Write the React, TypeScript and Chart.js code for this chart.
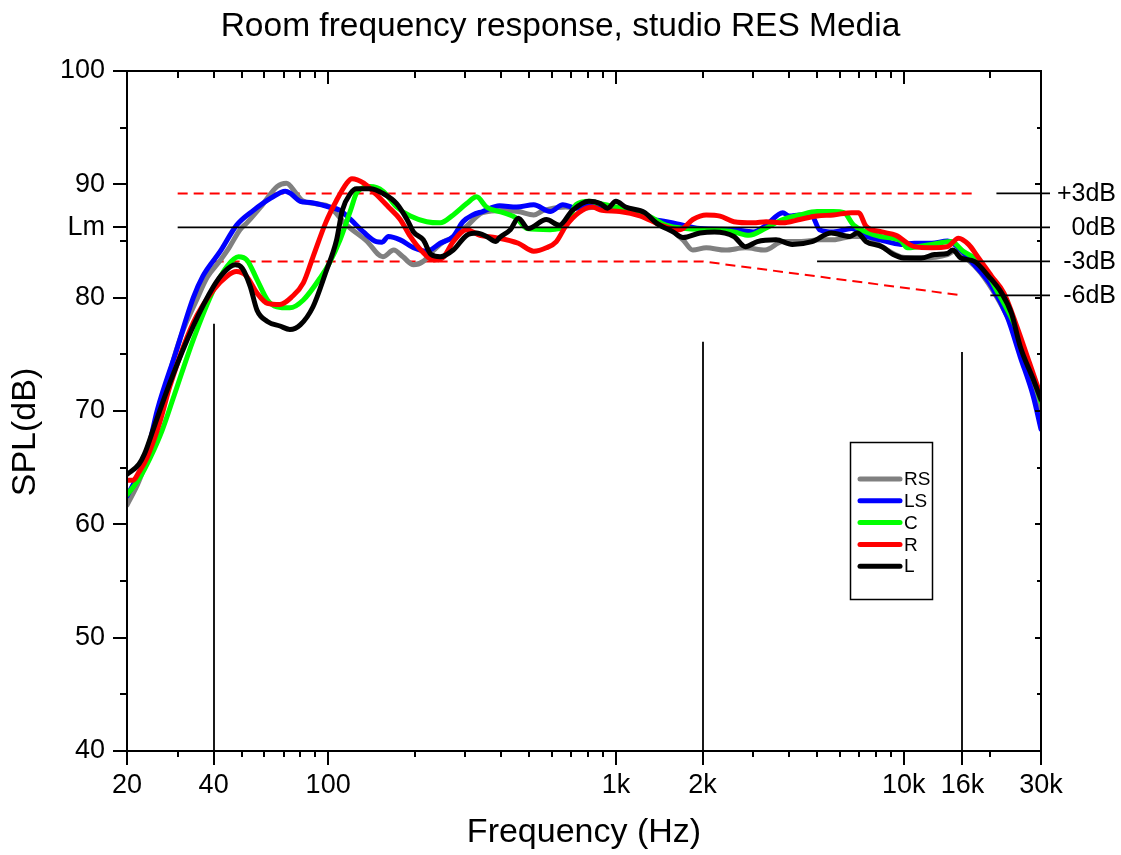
import React, { useEffect, useRef } from 'react';
import { Chart, registerables } from 'chart.js';

Chart.register(...registerables);

const FONT = "'Liberation Sans', Arial, Helvetica, sans-serif";

const TITLE = 'Room frequency response, studio RES Media';
const X_TITLE = 'Frequency (Hz)';
const Y_TITLE = 'SPL(dB)';

const X_MIN = 20;
const X_MAX = 30000;
const Y_MIN = 40;
const Y_MAX = 100;

const X_MAJOR = [20, 40, 100, 1000, 2000, 10000, 16000, 30000];
const X_MAJOR_LABELS = ['20', '40', '100', '1k', '2k', '10k', '16k', '30k'];
const X_MINOR = [30, 50, 60, 70, 80, 90, 200, 300, 400, 500, 600, 700, 800, 900, 3000, 4000, 5000, 6000, 7000, 8000, 9000, 20000];
const X_TOP_MAJOR = [100, 1000, 10000];
const X_TOP_MINOR = [30, 40, 50, 60, 70, 80, 90, 200, 300, 400, 500, 600, 700, 800, 900, 2000, 3000, 4000, 5000, 6000, 7000, 8000, 9000, 20000];

const LM = 86.2;
const Y_MAJOR = [40, 50, 60, 70, 80, 90, 100];
const Y_MINOR = [45, 55, 65, 75, 85, 95];

// reference levels relative to Lm
const REF_OFFSETS = [3, 0, -3, -6];
const REF_LABELS = ['+3dB', '0dB', '-3dB', '-6dB'];
const REF_START_HZ = [21000, 30, 5000, 20000];

// tolerance template (red dashed)
const UPPER_BAND_HZ = [30, 17300];
const UPPER_BAND_OFFSET = [3, 3];
const LOWER_BAND_HZ = [40, 2000, 16000];
const LOWER_BAND_OFFSET = [-3, -3, -6];

// vertical markers
const MARKER_HZ = [40, 2000, 16000];
const MARKER_TOP_DB = [77.7, 76.1, 75.2];

// ---- measured curves ----
const RS_HZ = [20, 22, 24, 26, 28.2, 31, 34.9, 38, 42.2, 45, 49.4, 52.2, 58.3, 66.4, 71.6, 77.4, 81, 90, 101, 116, 136, 155, 169, 182, 198, 214, 233, 252, 272, 303, 344, 406, 458, 518, 560, 669, 762, 883, 1000, 1140, 1430, 1710, 1850, 2060, 2400, 2820, 3300, 3800, 4400, 5100, 5700, 6600, 7400, 8400, 9800, 11500, 14200, 15000, 16800, 18500, 21000, 23700, 26300, 29000, 30000];
const RS_DB = [61.7, 63.8, 66.5, 69.5, 73.4, 76.8, 79.8, 81.8, 83.3, 84.3, 86.0, 86.6, 88.0, 89.8, 90.1, 89.2, 88.6, 88.3, 88.0, 86.4, 85.0, 83.6, 84.2, 83.6, 82.9, 83.2, 84.2, 84.95, 85.3, 86.3, 87.5, 87.7, 87.6, 87.3, 87.7, 88.0, 87.9, 88.0, 87.9, 87.6, 86.6, 85.1, 84.2, 84.4, 84.2, 84.4, 84.2, 84.95, 84.95, 85.1, 85.1, 85.4, 85.4, 84.5, 83.6, 83.5, 83.8, 84.1, 83.3, 82.2, 80.1, 77.5, 74.2, 71.3, 69.5];

const LS_HZ = [20, 22, 23.5, 25.5, 29.5, 34, 36.7, 42.2, 48.1, 55, 63.4, 71, 74, 80, 86.6, 101, 110, 119.6, 132.6, 147, 154, 162, 178, 198, 220, 245, 272, 294, 318, 344, 394, 452, 518, 591, 654, 726, 806, 935, 1140, 1300, 1580, 1960, 2570, 3000, 3330, 3800, 4000, 4350, 4800, 5100, 5700, 6600, 7300, 8300, 9800, 10900, 12500, 14200, 15800, 17600, 20200, 22900, 25400, 28200, 30000];
const LS_DB = [62.5, 64.5, 66.3, 70.1, 75.1, 80.0, 81.9, 84.1, 86.4, 87.7, 88.8, 89.4, 89.2, 88.5, 88.4, 88.0, 87.7, 86.9, 85.8, 84.95, 84.9, 85.4, 85.1, 84.4, 84.1, 84.8, 85.4, 86.7, 87.3, 87.6, 88.1, 88.0, 88.2, 87.6, 88.2, 87.9, 88.2, 87.9, 87.5, 87.0, 86.6, 86.1, 86.0, 85.8, 86.4, 87.5, 87.2, 87.3, 87.2, 86.0, 85.8, 86.1, 85.5, 85.1, 84.7, 84.8, 84.8, 85.0, 84.2, 82.9, 81.0, 78.3, 74.8, 71.3, 68.4];

const C_HZ = [20, 22, 24, 26.5, 29.1, 34, 40, 44.5, 48.8, 52.3, 56.6, 61.5, 66.3, 73.6, 82, 94.7, 101, 110, 119.6, 126, 140, 155, 173, 193, 220, 245, 272, 303, 328, 355, 406, 452, 490, 591, 669, 726, 806, 883, 1000, 1140, 1300, 1490, 1750, 2060, 2570, 2900, 3300, 3800, 4350, 5000, 5700, 6200, 6700, 7400, 8300, 9800, 10300, 12500, 14600, 16100, 18500, 21000, 24100, 26700, 30000];
const C_DB = [62.6, 64.0, 65.8, 68.3, 71.3, 76.3, 80.7, 82.75, 83.6, 83.3, 81.6, 79.8, 79.2, 79.1, 79.8, 81.9, 83.05, 85.1, 87.7, 89.3, 89.8, 89.4, 88.0, 87.2, 86.7, 86.6, 87.3, 88.3, 88.9, 88.0, 87.5, 87.0, 86.1, 86.0, 86.3, 88.2, 88.5, 88.3, 88.0, 87.6, 87.2, 86.4, 86.1, 86.0, 85.8, 85.5, 86.1, 86.9, 87.3, 87.6, 87.6, 87.5, 86.4, 85.8, 85.4, 85.0, 84.4, 84.7, 84.95, 84.1, 83.05, 80.7, 77.8, 74.8, 70.85];

const R_HZ = [20, 21, 22, 23.5, 26, 28.2, 34, 40, 44.5, 48, 52, 56.6, 61.5, 68, 75, 82, 88.6, 98, 107, 116, 121, 133, 147, 162, 178, 193, 210, 233, 252, 272, 303, 337, 383, 458, 518, 573, 621, 669, 742, 826, 894, 1030, 1220, 1430, 1670, 1850, 2060, 2300, 2570, 3000, 3330, 3800, 4350, 5000, 5700, 6600, 6970, 7400, 8400, 9400, 10900, 12500, 14200, 15500, 16800, 18100, 20200, 22300, 24700, 27400, 30000];
const R_DB = [63.9, 63.9, 64.6, 65.9, 69.0, 72.2, 77.8, 80.7, 81.9, 82.3, 81.9, 80.4, 79.5, 79.4, 80.1, 81.3, 83.6, 86.6, 88.6, 90.1, 90.5, 90.1, 89.1, 88.0, 86.9, 85.4, 84.2, 83.3, 83.6, 84.95, 86.0, 85.5, 85.3, 84.8, 84.1, 84.4, 84.95, 86.3, 87.5, 88.0, 87.7, 87.6, 87.2, 86.4, 86.0, 86.9, 87.3, 87.2, 86.7, 86.6, 86.7, 86.6, 86.9, 87.2, 87.3, 87.5, 87.5, 86.3, 85.8, 85.5, 84.5, 84.4, 84.5, 85.25, 84.7, 83.6, 81.9, 80.4, 77.5, 74.2, 71.3];

const L_HZ = [20, 22, 23, 25, 28.2, 34, 40, 43.3, 47.5, 50.3, 53.6, 56.6, 61.5, 68, 73.6, 80, 88.6, 98, 107, 112, 119.6, 125.5, 140, 155, 173, 188, 198, 214, 228, 245, 272, 303, 328, 355, 383, 394, 430, 458, 496, 573, 636, 706, 806, 883, 935, 1000, 1080, 1260, 1380, 1580, 1710, 1960, 2200, 2570, 2820, 3100, 3600, 4100, 4800, 5600, 6500, 6900, 7400, 8400, 9200, 10000, 11500, 12800, 14200, 14800, 15800, 17600, 19700, 21900, 23700, 25400, 28200, 30000];
const L_DB = [64.4, 65.3, 66.2, 68.8, 72.5, 77.5, 81.0, 82.2, 82.9, 82.6, 81.0, 78.9, 77.9, 77.5, 77.2, 77.6, 79.2, 82.2, 85.1, 87.7, 89.2, 89.6, 89.6, 89.2, 88.3, 86.9, 85.8, 85.1, 83.8, 83.6, 84.2, 85.5, 85.7, 85.4, 84.95, 85.3, 86.0, 87.0, 86.1, 86.9, 86.4, 87.7, 88.5, 88.3, 87.9, 88.5, 88.0, 87.5, 86.6, 85.8, 85.3, 85.7, 85.8, 85.4, 84.5, 84.95, 85.1, 84.7, 84.95, 85.7, 85.4, 85.7, 84.95, 84.5, 83.8, 83.5, 83.5, 83.8, 83.9, 84.2, 83.5, 83.2, 81.9, 80.4, 78.6, 75.7, 72.8, 71.0];

const SERIES_NAMES = ['RS', 'LS', 'C', 'R', 'L'];
const SERIES_COLORS = ['#808080', '#0000ff', '#00ff00', '#ff0000', '#000000'];
const SERIES_HZ = [RS_HZ, LS_HZ, C_HZ, R_HZ, L_HZ];
const SERIES_DB = [RS_DB, LS_DB, C_DB, R_DB, L_DB];

const overlayPlugin = {
  id: 'overlay',
  beforeDatasetsDraw(chart: any) {
    const { ctx, scales } = chart;
    const x = scales.x;
    const y = scales.y;
    ctx.save();
    ctx.strokeStyle = '#ff0000';
    ctx.lineWidth = 2;
    ctx.setLineDash([10, 6]);
    const band = (hz: number[], off: number[]) => {
      ctx.beginPath();
      hz.forEach((f, i) => {
        const px = x.getPixelForValue(f);
        const py = y.getPixelForValue(LM + off[i]);
        if (i === 0) ctx.moveTo(px, py);
        else ctx.lineTo(px, py);
      });
      ctx.stroke();
    };
    band(UPPER_BAND_HZ, UPPER_BAND_OFFSET);
    band(LOWER_BAND_HZ, LOWER_BAND_OFFSET);
    ctx.setLineDash([]);
    ctx.restore();
  },
  afterDatasetsDraw(chart: any) {
    const { ctx, chartArea, scales } = chart;
    const x = scales.x;
    const y = scales.y;
    const { left, right, top, bottom } = chartArea;
    ctx.save();
    ctx.strokeStyle = '#000';
    ctx.fillStyle = '#000';
    ctx.lineCap = 'butt';
    const line = (x1: number, y1: number, x2: number, y2: number, w = 2) => {
      ctx.lineWidth = w;
      ctx.beginPath();
      ctx.moveTo(x1, y1);
      ctx.lineTo(x2, y2);
      ctx.stroke();
    };
    // reference level lines
    REF_OFFSETS.forEach((o, i) => {
      const py = y.getPixelForValue(LM + o);
      line(x.getPixelForValue(REF_START_HZ[i]), py, right + 9, py, 1.8);
    });
    // vertical markers
    MARKER_HZ.forEach((f, i) => {
      const px = Math.round(x.getPixelForValue(f));
      line(px, y.getPixelForValue(MARKER_TOP_DB[i]), px, bottom, 1.8);
    });
    // frame
    ctx.lineWidth = 2;
    ctx.strokeRect(left, top, right - left, bottom - top);
    // bottom ticks
    X_MAJOR.forEach((f) => {
      const px = Math.round(x.getPixelForValue(f));
      line(px, bottom, px, bottom + 14);
    });
    X_MINOR.forEach((f) => {
      const px = Math.round(x.getPixelForValue(f));
      line(px, bottom, px, bottom + 6);
    });
    // top ticks (inward)
    X_TOP_MAJOR.forEach((f) => {
      const px = Math.round(x.getPixelForValue(f));
      line(px, top, px, top + 13);
    });
    X_TOP_MINOR.forEach((f) => {
      const px = Math.round(x.getPixelForValue(f));
      line(px, top, px, top + 7);
    });
    // left ticks
    [...Y_MAJOR, LM].forEach((v) => {
      const py = Math.round(y.getPixelForValue(v));
      line(left - 14, py, left, py);
    });
    Y_MINOR.forEach((v) => {
      const py = Math.round(y.getPixelForValue(v));
      line(left - 7, py, left, py);
    });
    // right ticks (inward)
    Y_MAJOR.forEach((v) => {
      const py = Math.round(y.getPixelForValue(v));
      line(right - 6, py, right, py);
    });
    Y_MINOR.forEach((v) => {
      const py = Math.round(y.getPixelForValue(v));
      line(right - 4, py, right, py);
    });
    // reference labels
    ctx.font = `25px ${FONT}`;
    ctx.textAlign = 'right';
    ctx.textBaseline = 'middle';
    REF_OFFSETS.forEach((o, i) => {
      ctx.fillText(REF_LABELS[i], right + 75, y.getPixelForValue(LM + o) + 1);
    });
    // y axis title
    ctx.save();
    ctx.translate(26, (top + bottom) / 2 + 21);
    ctx.rotate(-Math.PI / 2);
    ctx.font = `34px ${FONT}`;
    ctx.textAlign = 'center';
    ctx.textBaseline = 'middle';
    ctx.fillText(Y_TITLE, 0, 0);
    ctx.restore();
    // legend box
    const bx = 850, by = 442, bw = 82, bh = 157;
    ctx.lineWidth = 1.5;
    ctx.strokeRect(bx + 0.5, by + 0.5, bw, bh);
    ctx.font = `19px ${FONT}`;
    ctx.textAlign = 'left';
    ctx.textBaseline = 'middle';
    SERIES_NAMES.forEach((name, i) => {
      const ly = by + 37 + i * 21.8;
      ctx.strokeStyle = SERIES_COLORS[i];
      ctx.lineWidth = 5;
      ctx.lineCap = 'round';
      ctx.beginPath();
      ctx.moveTo(bx + 10, ly);
      ctx.lineTo(bx + 50, ly);
      ctx.stroke();
      ctx.fillStyle = '#000';
      ctx.fillText(name, bx + 54, ly + 1);
    });
    ctx.restore();
  },
};

export default function App() {
  const canvasRef = useRef<HTMLCanvasElement | null>(null);

  useEffect(() => {
    const canvas = canvasRef.current;
    if (!canvas) return;
    const datasets = SERIES_NAMES.map((name, i) => ({
      label: name,
      data: SERIES_HZ[i].map((h, j) => ({ x: h, y: SERIES_DB[i][j] })),
      borderColor: SERIES_COLORS[i],
      backgroundColor: SERIES_COLORS[i],
      borderWidth: 5,
      pointRadius: 0,
      fill: false,
      cubicInterpolationMode: 'monotone' as const,
      borderCapStyle: 'round' as const,
      borderJoinStyle: 'round' as const,
      order: SERIES_NAMES.length - i,
    }));

    const chart = new Chart(canvas, {
      type: 'line',
      data: { datasets },
      plugins: [overlayPlugin],
      options: {
        responsive: false,
        animation: false,
        devicePixelRatio: 1,
        layout: { padding: 0 },
        plugins: {
          legend: { display: false },
          tooltip: { enabled: false },
          title: {
            display: true,
            text: TITLE,
            color: '#000',
            font: { family: FONT, size: 33.5, weight: 'normal' as any },
            padding: { top: 7, bottom: 23.8 },
          },
        },
        scales: {
          x: {
            type: 'logarithmic',
            position: 'bottom',
            min: X_MIN,
            max: X_MAX,
            afterBuildTicks: (scale: any) => {
              scale.ticks = X_MAJOR.map((v) => ({ value: v }));
            },
            afterFit: (scale: any) => {
              scale.height = 104;
            },
            grid: { display: false, drawTicks: false, tickLength: 0 },
            border: { display: false },
            ticks: {
              autoSkip: false,
              maxRotation: 0,
              minRotation: 0,
              padding: 18,
              color: '#000',
              font: { family: FONT, size: 27 },
              callback: (value: any) => {
                const idx = X_MAJOR.indexOf(Number(value));
                return idx >= 0 ? X_MAJOR_LABELS[idx] : '';
              },
            },
            title: {
              display: true,
              text: X_TITLE,
              color: '#000',
              font: { family: FONT, size: 34 },
              padding: { top: 0, bottom: 2 },
            },
          },
          y: {
            type: 'linear',
            position: 'left',
            min: Y_MIN,
            max: Y_MAX,
            afterBuildTicks: (scale: any) => {
              scale.ticks = [...Y_MAJOR, LM].sort((a, b) => a - b).map((v) => ({ value: v }));
            },
            afterFit: (scale: any) => {
              scale.width = 127;
            },
            grid: { display: false, drawTicks: false, tickLength: 0 },
            border: { display: false },
            ticks: {
              autoSkip: false,
              padding: 22,
              color: '#000',
              font: { family: FONT, size: 27 },
              callback: (value: any) => (Number(value) === LM ? 'Lm' : String(value)),
            },
          },
          y2: {
            type: 'linear',
            position: 'right',
            min: Y_MIN,
            max: Y_MAX,
            afterFit: (scale: any) => {
              scale.width = 80;
            },
            grid: { display: false, drawTicks: false, tickLength: 0 },
            border: { display: false },
            ticks: { display: false },
          },
        },
      },
    } as any);
    return () => chart.destroy();
  }, []);

  return (
    <div style={{ position: 'absolute', left: 0, top: 0, width: 1121, height: 855, background: '#fff' }}>
      <canvas ref={canvasRef} width={1121} height={855} style={{ display: 'block' }} />
    </div>
  );
}
